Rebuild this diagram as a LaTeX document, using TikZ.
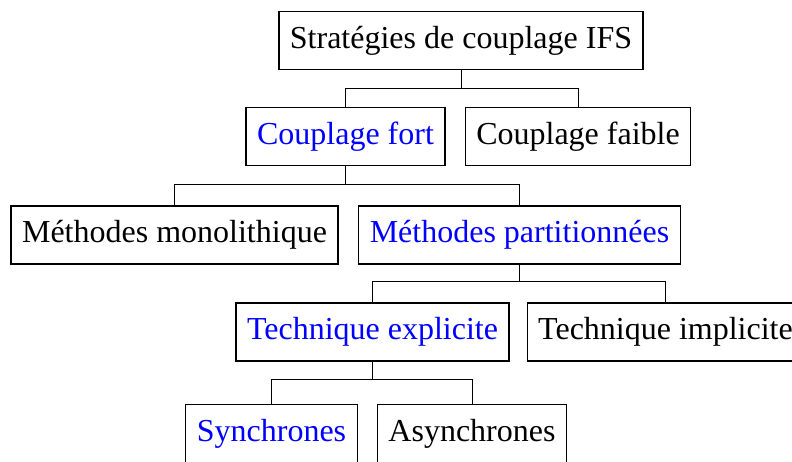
\documentclass[tikz,border=0pt]{standalone}
\usepackage{fontspec}
\setmainfont{Liberation Serif}
\usepackage{xcolor}
\usetikzlibrary{positioning}

\begin{document}
\begin{tikzpicture}[
  x=0.5pt, y=-0.5pt,
  box/.style={draw, line width=0.6pt, align=center, font=\fontsize{16}{19}\selectfont, minimum height=29pt, inner xsep=5.5pt, text=#1},
  box/.default=black,
  lnk/.style={line width=0.5pt}]
  \useasboundingbox (0,0) rectangle (792,461);
  \node[box] (root) at (461,40.5) {Stratégies de couplage IFS};
  \node[box=blue] (fort) at (345.5,136.5) {Couplage fort};
  \node[box] (faible) at (578,136.5) {Couplage faible};
  \node[box] (mono) at (174.5,235) {Méthodes monolithique};
  \node[box=blue] (part) at (519.5,235) {Méthodes partitionnées};
  \node[box=blue] (expl) at (372.5,332) {Technique explicite};
  \node[box] (impl) at (665.5,332) {Technique implicite};
  \node[box=blue] (sync) at (271.5,433.5) {Synchrones};
  \node[box] (async) at (472,433.5) {Asynchrones};
  \draw[lnk] (root.south) -- ++(0,18) -| (fort.north);
  \draw[lnk] (root.south) -- ++(0,18) -| (faible.north);
  \draw[lnk] (fort.south) -- ++(0,18) -| (mono.north);
  \draw[lnk] (fort.south) -- ++(0,18) -| (part.north);
  \draw[lnk] (part.south) -- ++(0,17) -| (expl.north);
  \draw[lnk] (part.south) -- ++(0,17) -| (impl.north);
  \draw[lnk] (expl.south) -- ++(0,18) -| (sync.north);
  \draw[lnk] (expl.south) -- ++(0,18) -| (async.north);
\end{tikzpicture}
\end{document}
